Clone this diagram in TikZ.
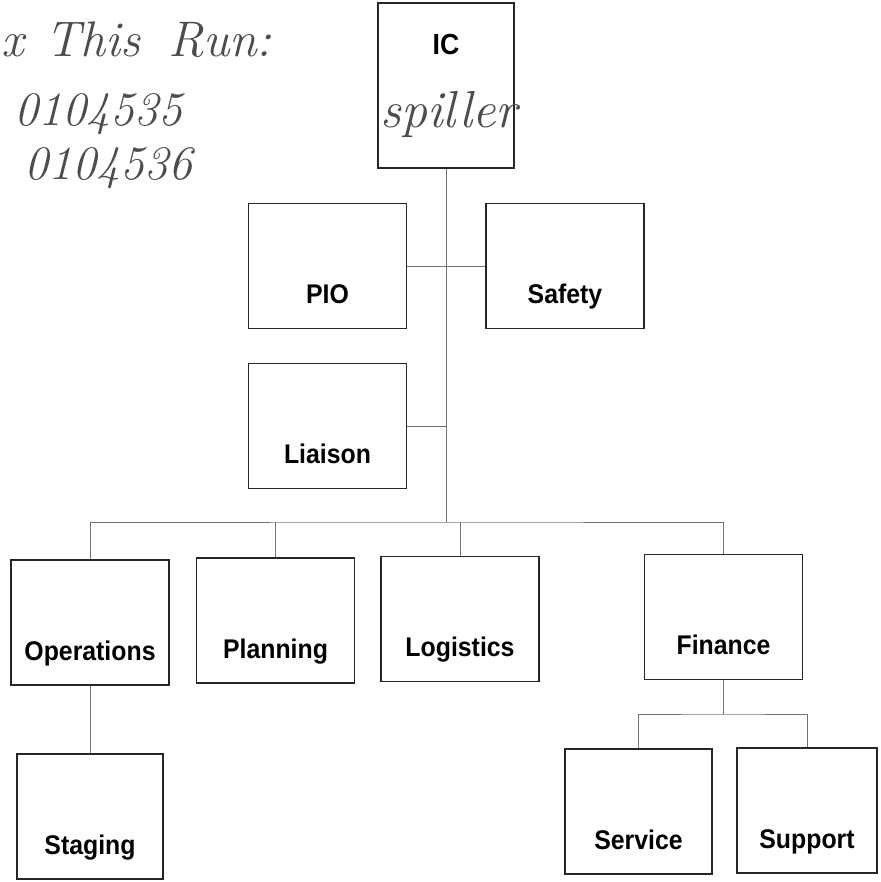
\documentclass[tikz,border=0pt]{standalone}
\usepackage{fontspec}
\newfontfamily\orgfont[FakeStretch=0.92]{Liberation Sans}

\begin{document}
\begin{tikzpicture}[x=1pt, y=-1pt,
  box/.style={shape=rectangle, draw=black!85, line width=1.1pt, inner sep=0pt,
    minimum width=158pt, text height=100pt, text depth=25pt,
    font=\orgfont\bfseries\fontsize{27}{32}\selectfont},
  link/.style={draw=black!55, line width=0.9pt},
  hand/.style={text=black!70, inner sep=0pt, anchor=base west,
    font=\itshape\fontsize{50}{56}\selectfont}]
\useasboundingbox (0,0) rectangle (880,882);

\node [box, minimum width=136pt, text height=52pt, text depth=113pt,
  font=\orgfont\bfseries\fontsize{29}{34}\selectfont] (IC) at (446,85.5) {IC};
\node [box] (PIO) at (327.5,266) {PIO};
\node [box] (Safety) at (565,266) {Safety};
\node [box] (Liaison) at (327.5,426) {Liaison};
\node [box] (Ops) at (90,622.5) {Operations};
\node [box] (Plan) at (275.5,620.5) {Planning};
\node [box] (Log) at (460,619) {Logistics};
\node [box] (Fin) at (723.5,617) {Finance};
\node [box, minimum width=146pt] (Stag) at (90,816.5) {Staging};
\node [box, minimum width=147pt] (Serv) at (638.5,811.5) {Service};
\node [box, minimum width=140pt] (Supp) at (807,810.5) {Support};

\node [hand] (Run) at (1,57) {x\hspace{22pt}This\hspace{28pt}Run:};
\node [hand, font=\itshape\fontsize{48}{54}\selectfont] (Num1) at (14,126) {0104535};
\node [hand, font=\itshape\fontsize{48}{54}\selectfont] (Num2) at (24,180) {0104536};
\node [hand, font=\itshape\fontsize{52}{58}\selectfont] (Name) at (380,128) {spiller};

\coordinate (J1) at (446,522);
\coordinate (J2) at (723.5,714);

\draw [link] (IC) -- (J1);
\draw [link] (PIO) -- (Safety);
\draw [link] (Liaison.east) -- (Liaison.east -| J1);
\draw [link] (Ops) |- (J1) -| (Fin);
\draw [link] (Plan) -- (Plan |- J1);
\draw [link] (Log) -- (Log |- J1);
\draw [link] (Ops) -- (Stag);
\draw [link] (Fin) -- (J2);
\draw [link] (Serv) |- (J2) -| (Supp);
\end{tikzpicture}
\end{document}
